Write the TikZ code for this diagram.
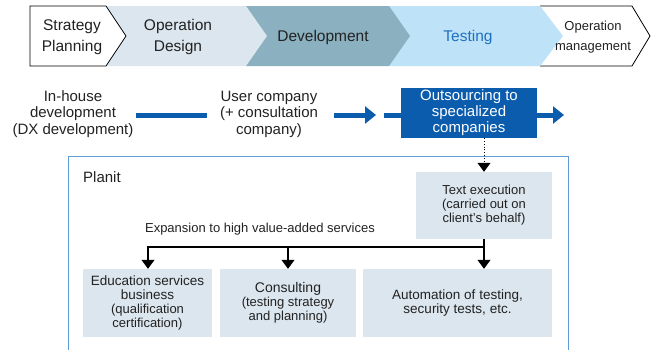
\documentclass[tikz,border=0pt]{standalone}
\usepackage{fontspec}
\setmainfont{Liberation Sans}
\usepackage{tikz}
\usetikzlibrary{arrows.meta, positioning, calc}
\usepackage{xcolor}
\definecolor{boxgrey}{HTML}{DCE6EE}
\definecolor{devblue}{HTML}{8BB0C0}
\definecolor{testblue}{HTML}{BEE3F8}
\definecolor{testtext}{HTML}{1F6FC0}
\definecolor{outblue}{HTML}{0B5CAD}
\definecolor{planitblue}{HTML}{5C9BD5}
\definecolor{inktext}{HTML}{222222}

\tikzset{
  steptxt/.style={font=\fontsize{15.5}{21}\selectfont, align=center, text=inktext, inner sep=0pt},
  rowtxt/.style={font=\fontsize{15}{16.5}\selectfont, align=center, text=inktext, inner sep=4pt},
  greybox/.style={fill=boxgrey, minimum height=68pt, align=center, text=inktext, font=\fontsize{13}{14}\selectfont, inner sep=0pt},
  flowline/.style={line width=5pt, draw=outblue},
  flowarrow/.style={flowline, -{Triangle[length=11pt,width=17pt]}},
  downarrow/.style={line width=1.1pt, -{Triangle[length=9pt,width=13pt]}},
}

\begin{document}
\begin{tikzpicture}[x=1pt, y=-1pt]
\useasboundingbox (0,0) rectangle (669,349);

% process chevrons, drawn right to left
\fill[white] (540,6) -- (632,6) -- (650,36) -- (632,66) -- (540,66) -- cycle;
\draw[line width=0.8pt] (540,6) -- (632,6) -- (650,36) -- (632,66) -- (540,66);
\fill[testblue] (389,6) -- (540,6) -- (563,36) -- (540,66) -- (389,66) -- cycle;
\fill[devblue] (246,6) -- (389,6) -- (410,36) -- (389,66) -- (246,66) -- cycle;
\fill[boxgrey] (106,6) -- (246,6) -- (267,36) -- (246,66) -- (106,66) -- cycle;
\draw[line width=0.8pt, fill=white] (30,6) -- (106,6) -- (126,36) -- (106,66) -- (30,66) -- cycle;

\node[steptxt] (strat) at (72,37) {Strategy\\Planning};
\node[steptxt] (design) at (178,37) {Operation\\Design};
\node[steptxt] (devel) at (323,37) {Development};
\node[steptxt, text=testtext] (testing) at (468,37) {Testing};
\node[steptxt, font=\fontsize{13}{20}\selectfont] (operm) at (593,37) {Operation\\management};

% development styles
\node[rowtxt] (inhouse) at (73,114) {In-house\\development\\(DX development)};
\node[rowtxt] (user) at (269,114) {User company\\(+ consultation\\company)};
\node[fill=outblue, text=white, minimum width=136pt, minimum height=50pt, inner sep=0pt,
      align=center, font=\fontsize{15}{16}\selectfont] (outs) at (469,113)
      {Outsourcing to\\specialized\\companies};

\coordinate (gapA) at (376,115);
\coordinate (gapB) at (384,115);
\coordinate (tail) at (564,115);
\draw[flowline, shorten <=-2pt, shorten >=9pt] (inhouse.east |- gapA) -- (user.west |- gapA);
\draw[flowarrow] ([xshift=12pt]user.east |- gapA) -- (gapA);
\draw[flowline] (gapB) -- (outs.west |- gapB);
\draw[flowarrow] (outs.east |- tail) -- (tail);

% Planit frame
\draw[planitblue, line width=0.8pt] (68,352) -- (68,156) -- (568,156) -- (568,352);
\node[anchor=west, inner sep=0pt, text=inktext, font=\fontsize{15}{16}\selectfont] (planit) at (83,177) {Planit};

\node[greybox, minimum width=136pt, minimum height=67pt] (exec) at (484,205.5)
     {Text execution\\(carried out on\\client's behalf)};
\draw[dotted, line width=0.8pt, -{Triangle[length=9pt,width=13pt]}] (outs.south -| exec.north) -- (exec.north);

\node[text=inktext, inner sep=0pt, font=\fontsize{13}{14}\selectfont] (expand) at (260,229)
     {Expansion to high value-added services};

\node[greybox, minimum width=129pt] (edu) at (147.5,303)
     {\fontsize{13.5}{14}\selectfont Education services\\\fontsize{13.5}{14}\selectfont business\\(qualification\\certification)};
\node[greybox, minimum width=136pt] (cons) at (288,303)
     {\fontsize{14}{17}\selectfont Consulting\\(testing strategy\\and planning)};
\node[greybox, minimum width=189pt] (auto) at (457.5,303)
     {\fontsize{13.5}{14}\selectfont Automation of testing,\\\fontsize{13.5}{14}\selectfont security tests, etc.};

\coordinate (bus) at (484,247);
\draw[downarrow] (exec.south) -- (exec.south |- auto.north);
\draw[downarrow] (bus) -| ([xshift=0.5pt]edu.north);
\draw[downarrow] (cons.north |- bus) -- (cons.north);
\end{tikzpicture}
\end{document}
